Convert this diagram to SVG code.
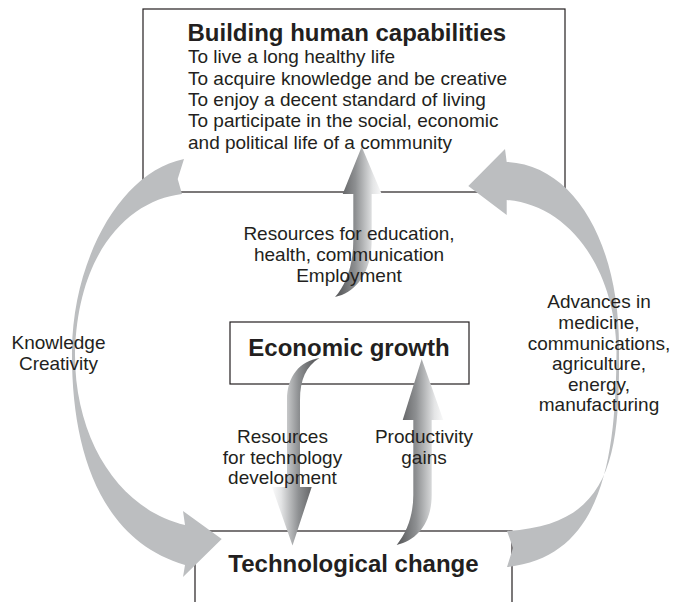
<svg xmlns="http://www.w3.org/2000/svg" xmlns:xlink="http://www.w3.org/1999/xlink" width="673" height="602" viewBox="0 0 673 602">
  <style>
    .box { fill: #ffffff; stroke: #231f20; stroke-width: 1.2; }
    .title { font-family: "Liberation Sans", Arial, sans-serif; font-weight: bold; font-size: 24px; fill: #231f20; }
    .body { font-family: "Liberation Sans", Arial, sans-serif; font-size: 19px; fill: #231f20; }
    .mid { text-anchor: middle; }
    .loop { fill: #bcbec0; stroke: none; }
  </style>
  <defs>
    <!-- metallic shading for the inner flow arrows -->
    <linearGradient id="metal">
      <stop offset="0" stop-color="#5e5f61"/>
      <stop offset="0.35" stop-color="#8e9092"/>
      <stop offset="0.75" stop-color="#e4e5e6"/>
      <stop offset="1" stop-color="#ffffff"/>
    </linearGradient>
    <linearGradient id="metal-up-top" xlink:href="#metal" gradientUnits="userSpaceOnUse" x1="340" y1="0" x2="384" y2="0"/>
    <linearGradient id="metal-up-prod" xlink:href="#metal" gradientUnits="userSpaceOnUse" x1="400" y1="0" x2="446" y2="0"/>
    <linearGradient id="metal-down" xlink:href="#metal" gradientUnits="userSpaceOnUse" x1="314" y1="0" x2="270" y2="0"/>
  </defs>

  <!-- nodes -->
  <g id="capabilities">
    <rect class="box" x="143" y="9" width="422" height="183"/>
    <text class="title" x="187.5" y="41">Building human capabilities</text>
    <text class="body" x="188" y="63">To live a long healthy life</text>
    <text class="body" x="188" y="84.5">To acquire knowledge and be creative</text>
    <text class="body" x="188" y="106">To enjoy a decent standard of living</text>
    <text class="body" x="188" y="127">To participate in the social, economic</text>
    <text class="body" x="188" y="148.5">and political life of a community</text>
  </g>
  <g id="economic-growth">
    <rect class="box" x="230" y="322" width="239" height="62"/>
    <text class="title mid" x="349" y="356">Economic growth</text>
  </g>
  <g id="technological-change">
    <rect class="box" x="195" y="531" width="317" height="80"/>
    <text class="title mid" x="353.5" y="572">Technological change</text>
  </g>

  <!-- connectors -->
  <g id="connectors">
    <!-- left loop: capabilities to technological change -->
    <path class="loop" d="M184,159
      C120,172 73,260 72,350
      C71,450 100,540 185,565
      L183,577 L221.7,539 L183,511 L185,525
      C120,510 74,440 75,352
      C78,250 130,200 182,194
      L177.7,179 Z"/>
    <!-- right loop: technological change to capabilities -->
    <path class="loop" d="M468.3,186 L505,149 L506.7,162
      C575,165 620,245 619,350
      C620,460 610,525 507,531
      L513,548 L507,567
      C602,557 616,460 616.5,350
      C615,270 570,205 506.7,200
      L506.7,215 Z"/>
    <!-- economic growth to capabilities -->
    <path fill="url(#metal-up-top)" d="M361.7,146.7 L381.7,194 L371.7,194 L371.7,240
      C371.7,270 358,292 335,297
      C346,285 353.3,265 353.3,240 L353.3,194 L342.7,194 Z"/>
    <!-- economic growth to technological change -->
    <path fill="url(#metal-down)" d="M319.5,358
      C306,366 300,380 300,400 L300,487 L311.7,487 L292.5,545.5 L272,487 L287,487 L287,400
      C287,376 300,361 319.5,358 Z"/>
    <!-- technological change to economic growth -->
    <path fill="url(#metal-up-prod)" d="M421.7,359 L443.3,420 L431.7,420 L431.7,495
      C431.7,522 418,540 396.7,545
      C407,532 413.3,515 413.3,495 L413.3,420 L402.7,420 Z"/>

    <!-- connector labels -->
    <text class="body mid" x="349" y="240">Resources for education,</text>
    <text class="body mid" x="349" y="261">health, communication</text>
    <text class="body mid" x="349" y="282">Employment</text>

    <text class="body mid" x="282.5" y="443">Resources</text>
    <text class="body mid" x="282.5" y="463.5">for technology</text>
    <text class="body mid" x="282.5" y="484">development</text>

    <text class="body mid" x="424" y="443">Productivity</text>
    <text class="body mid" x="424" y="463.5">gains</text>

    <text class="body mid" x="58.5" y="349">Knowledge</text>
    <text class="body mid" x="58.5" y="370">Creativity</text>

    <text class="body mid" x="599" y="308">Advances in</text>
    <text class="body mid" x="599" y="329">medicine,</text>
    <text class="body mid" x="599" y="349.5">communications,</text>
    <text class="body mid" x="599" y="370">agriculture,</text>
    <text class="body mid" x="599" y="390.5">energy,</text>
    <text class="body mid" x="599" y="411">manufacturing</text>
  </g>
</svg>
